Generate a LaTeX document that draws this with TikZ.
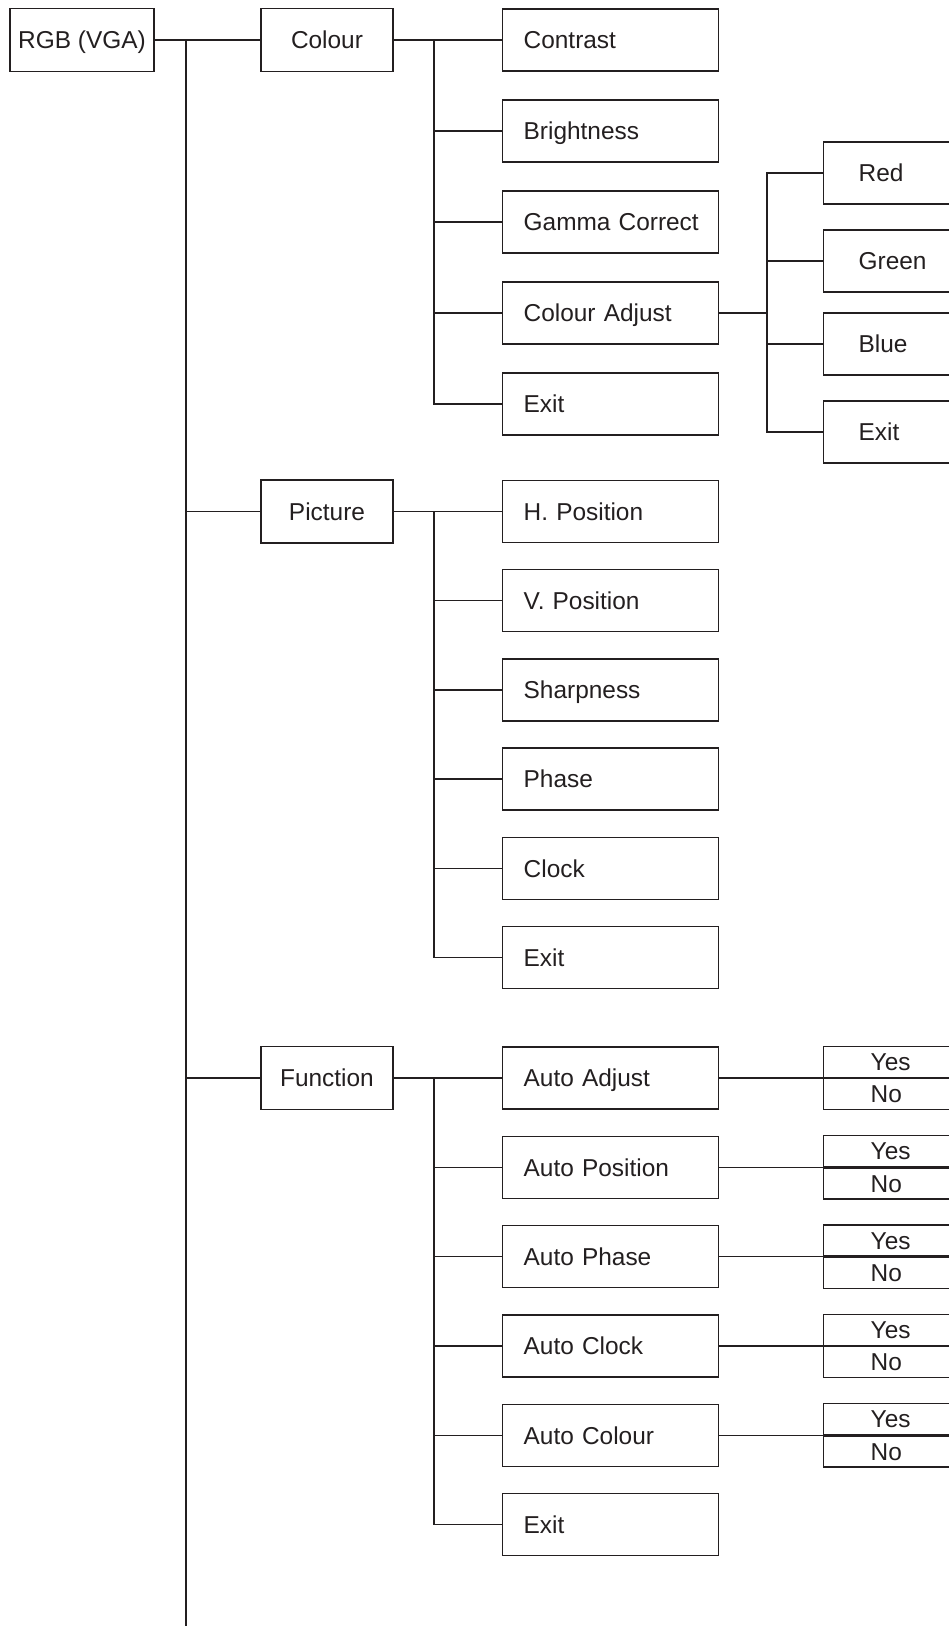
\documentclass[tikz,border=0pt]{standalone}
\usepackage{fontspec}
\setmainfont{Liberation Sans}
\definecolor{ink}{HTML}{231F20}
\tikzset{
  wire/.style={ink, line width=0.8pt},
  menu/.style={draw=ink, line width=0.8pt, minimum height=1.26cm, inner sep=0pt, text height=10pt, text depth=0pt},
  item/.style={draw=ink, line width=0.8pt, minimum height=1.24cm, text width=3.48cm, inner xsep=0.42cm, inner ysep=0pt, align=left, anchor=west, text height=10pt, text depth=0pt},
  subitem/.style={item, text width=2.6cm, inner xsep=0.7cm},
  yesno/.style={draw=ink, line width=0.8pt, minimum height=0.62cm, text width=2cm, inner xsep=0.94cm, inner ysep=0pt, align=left, text height=10pt, text depth=0pt},
}

\begin{document}
\begin{tikzpicture}[x=0.02cm, y=-0.02cm, every node/.style={font=\fontsize{13.9}{16}\selectfont, text=ink}]
  \useasboundingbox (0,0) rectangle (949,1626);
  \clip (0,0) rectangle (949,1626);

  % top level
  \node[menu, minimum width=2.88cm] (rgb) at (82,40) {RGB (VGA)};
  \node[menu, minimum width=2.64cm] (colour) at (327,40) {Colour};
  \node[menu, minimum width=2.64cm] (picture) at (327,511.5) {Picture};
  \node[menu, minimum width=2.64cm] (function) at (327,1078) {Function};

  \coordinate (trunk) at (186,40);
  \coordinate (trunkend) at (186,1630);
  \draw[wire] (rgb.east) -- (colour.west);
  \draw[wire] (trunk) -- (trunkend);
  \draw[wire] (trunk) |- (picture.west);
  \draw[wire] (trunk) |- (function.west);

  % Colour menu
  \coordinate (cbus) at (434,40);
  \draw[wire] (colour.east) -- (cbus);
  \foreach \t [count=\i] in {Contrast,Brightness,Gamma Correct,Colour Adjust,Exit} {
    \node[item] (c\i) at (502,{40+91*(\i-1)}) {\mbox{\t}};
    \draw[wire] (cbus) |- (c\i.west);
  }

  % Colour Adjust sub menu
  \coordinate (sbus) at (767,313);
  \draw[wire] (c4.east) -- (sbus);
  \foreach \t/\y [count=\i] in {Red/173,Green/261,Blue/344,Exit/432} {
    \node[subitem] (s\i) at (823,\y) {\t};
    \draw[wire] (sbus) |- (s\i.west);
  }

  % Picture menu
  \coordinate (pbus) at (434,511.5);
  \draw[wire] (picture.east) -- (pbus);
  \foreach \t [count=\i] in {H. Position,V. Position,Sharpness,Phase,Clock,Exit} {
    \node[item] (p\i) at (502,{511.5+89.2*(\i-1)}) {\mbox{\t}};
    \draw[wire] (pbus) |- (p\i.west);
  }

  % Function menu
  \coordinate (fbus) at (434,1078);
  \draw[wire] (function.east) -- (fbus);
  \foreach \t [count=\i] in {Auto Adjust,Auto Position,Auto Phase,Auto Clock,Auto Colour,Exit} {
    \node[item] (f\i) at (502,{1078+89.3*(\i-1)}) {\mbox{\t}};
    \draw[wire] (fbus) |- (f\i.west);
  }

  % Yes / No choices
  \foreach \i in {1,...,5} {
    \node[yesno, anchor=south west] (y\i) at (823,{1078+89.3*(\i-1)}) {Yes};
    \node[yesno, anchor=north west] (n\i) at (y\i.south west) {No};
    \draw[wire] (f\i.east) -- (y\i.south west);
  }
\end{tikzpicture}
\end{document}
